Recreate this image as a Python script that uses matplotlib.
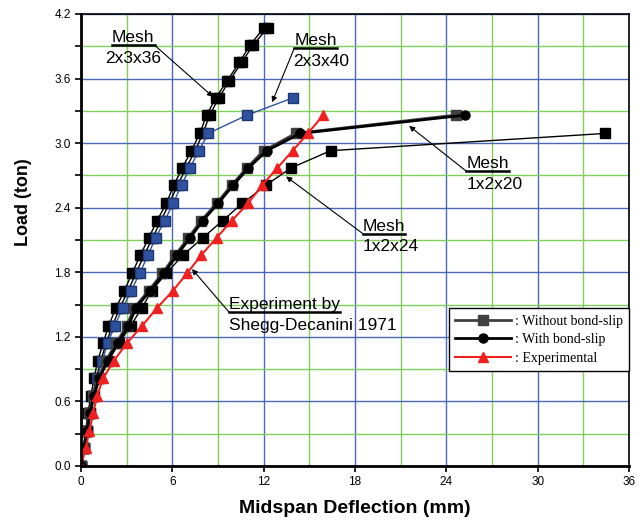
import numpy as np
import matplotlib.pyplot as plt

# Paliers de charge (ton)
load = [0, 0.163, 0.326, 0.49, 0.65, 0.815, 0.98, 1.14, 1.30, 1.47, 1.63, 1.79, 1.96,
        2.12, 2.28, 2.44, 2.61, 2.77, 2.93, 3.09, 3.26, 3.42, 3.58, 3.75, 3.91, 4.07]

# Flèches (mm)
defl_2x3x36_a = [0, 0.15, 0.3, 0.45, 0.65, 0.85, 1.1, 1.45, 1.8, 2.3, 2.85, 3.35, 3.9,
                 4.45, 5.0, 5.6, 6.1, 6.65, 7.25, 7.8, 8.25, 8.85, 9.6, 10.4, 11.1, 12.0]
defl_2x3x36_b = [0, 0.2, 0.4, 0.55, 0.75, 1.0, 1.3, 1.65, 2.05, 2.55, 3.1, 3.6, 4.15,
                 4.7, 5.25, 5.8, 6.35, 6.9, 7.5, 8.0, 8.45, 9.05, 9.75, 10.55, 11.3, 12.25]
defl_2x3x40 = [0, 0.2, 0.4, 0.6, 0.8, 1.05, 1.4, 1.75, 2.2, 2.75, 3.3, 3.85, 4.4,
               4.9, 5.5, 6.05, 6.6, 7.15, 7.75, 8.35, 10.9, 13.9]
defl_1x2x20_bs = [0, 0.2, 0.4, 0.6, 0.85, 1.2, 1.75, 2.4, 3.1, 3.6, 4.55, 5.45, 6.3,
                  7.16, 8.0, 9.0, 10.0, 11.0, 12.2, 14.4, 25.2]
defl_1x2x20 = [0, 0.2, 0.35, 0.55, 0.8, 1.15, 1.65, 2.3, 3.0, 3.5, 4.45, 5.35, 6.2,
               7.05, 7.9, 8.9, 9.9, 10.9, 12.0, 14.1, 24.6]
defl_1x2x24 = [0, 0.2, 0.4, 0.6, 0.85, 1.2, 1.8, 2.5, 3.25, 4.0, 4.65, 5.6, 6.7,
               8.0, 9.3, 10.6, 12.15, 13.8, 16.4, 34.4]
defl_exp = [0, 0.3, 0.55, 0.8, 1.05, 1.45, 2.17, 3.0, 4.0, 5.0, 6.05, 6.96, 7.9,
            8.9, 9.9, 10.97, 11.9, 12.9, 13.9, 14.9, 15.9]

legend_labels = [": Without bond-slip", ": With bond-slip", ": Experimental"]

# Couleurs
_COL_BLUE_GRID = "#4a68b8"
_COL_GREEN_GRID = "#7fcf5a"
_COL_BLUE = "#2f52a0"
_COL_GRAY = "#404040"
_COL_RED = "#f02020"

plt.rcParams['font.family'] = ['Liberation Sans', 'DejaVu Sans']

fig = plt.figure(figsize=(6.4, 5.24), dpi=100)
ax = fig.add_axes([0.1266, 0.1107, 0.8564, 0.8626])

ax.set_xlim(0, 36)
ax.set_ylim(0, 4.2)
ax.set_xticks(np.arange(0, 37, 6))
ax.set_yticks(np.arange(0, 4.21, 0.6))
ax.set_xticks(np.arange(3, 36, 6), minor=True)
ax.set_yticks(np.arange(0.3, 4.2, 0.6), minor=True)
ax.set_yticklabels([f"{v:.1f}" for v in np.arange(0, 4.21, 0.6)])
ax.grid(True, which="major", color=_COL_BLUE_GRID, lw=1)
ax.grid(True, which="minor", color=_COL_GREEN_GRID, lw=1)
ax.set_axisbelow(True)
ax.tick_params(which="both", direction="out", length=4, width=1.2, labelsize=8.5)
ax.tick_params(axis="x", which="minor", length=0)
for sp in ax.spines.values():
    sp.set_linewidth(1.2)
ax.spines["left"].set_linewidth(2)
ax.spines["bottom"].set_linewidth(2)

ax.set_xlabel("Midspan Deflection (mm)", fontsize=14, fontweight="bold", labelpad=8)
ax.set_ylabel("Load (ton)", fontsize=13, fontweight="bold")
ax.yaxis.set_label_coords(-0.089, 0.584)

# Courbes
ms = 6.5
ax.plot(defl_2x3x36_a, load[:len(defl_2x3x36_a)], color="black", lw=1,
        marker="s", ms=ms, mfc="black", mec="black")
ax.plot(defl_2x3x36_b, load[:len(defl_2x3x36_b)], color="black", lw=1,
        marker="s", ms=ms, mfc="black", mec="black")
ax.plot(defl_2x3x40, load[:len(defl_2x3x40)], color=_COL_BLUE, lw=1,
        marker="s", ms=ms, mfc=_COL_BLUE, mec="#1c3670")
ax.plot(defl_1x2x24, load[:len(defl_1x2x24)], color="black", lw=1,
        marker="s", ms=ms, mfc="black", mec="black")
l_wo, = ax.plot(defl_1x2x20, load[:len(defl_1x2x20)], color=_COL_GRAY, lw=2,
                marker="s", ms=ms, mfc=_COL_GRAY, mec=_COL_GRAY)
l_w, = ax.plot(defl_1x2x20_bs, load[:len(defl_1x2x20_bs)], color="black", lw=2,
               marker="o", ms=ms, mfc="black", mec="black")
l_exp, = ax.plot(defl_exp, load[:len(defl_exp)], color=_COL_RED, lw=1.5,
                 marker="^", ms=ms, mfc=_COL_RED, mec=_COL_RED)

leg = ax.legend([l_wo, l_w, l_exp], legend_labels, loc="lower right",
                bbox_to_anchor=(1.0, 0.21), borderaxespad=0, fancybox=False,
                framealpha=1, edgecolor="black", handlelength=4,
                prop={"family": "Liberation Serif", "size": 10},
                borderpad=0.45, labelspacing=0.4, handletextpad=0.3)
leg.get_frame().set_linewidth(1)

# Annotations : (texte souligné, 2e ligne, position texte, pointe de flèche)
notes = [
    ("Mesh", "2x3x36", (2.04, 3.91), (1.58, 3.72), "right", (8.67, 3.43)),
    ("Mesh", "2x3x40", (14.0, 3.88), (13.9, 3.69), "left", (12.55, 3.38)),
    ("Mesh", "1x2x20", (25.3, 2.74), (25.3, 2.55), "left", (21.55, 3.16)),
    ("Mesh", "1x2x24", (18.5, 2.16), (18.5, 1.97), "left", (13.47, 2.69)),
    ("Experiment by", "Shegg-Decanini 1971", (9.72, 1.43), (9.72, 1.24), "left", (7.29, 1.83)),
]

texts = []
for head, sub, pos, pos2, side, tip in notes:
    t = ax.text(pos[0], pos[1], head, fontsize=12.5, ha="left", va="bottom")
    ax.text(pos2[0], pos2[1], sub, fontsize=12.5, ha="left", va="bottom")
    texts.append((t, side, tip))

fig.canvas.draw()
inv = ax.transData.inverted()
for t, side, tip in texts:
    bb = t.get_window_extent()
    (x0, y0), (x1, _) = inv.transform([[bb.x0, bb.y0], [bb.x1, bb.y1]])
    ax.plot([x0, x1], [y0, y0], color="black", lw=1.8, clip_on=False)
    start = (x1, y0) if side == "right" else (x0, y0)
    ax.annotate("", xy=tip, xytext=start,
                arrowprops=dict(arrowstyle="-|>", color="black", lw=0.8,
                                mutation_scale=8, shrinkA=0, shrinkB=0))

fig.savefig("out.png", dpi=100)
